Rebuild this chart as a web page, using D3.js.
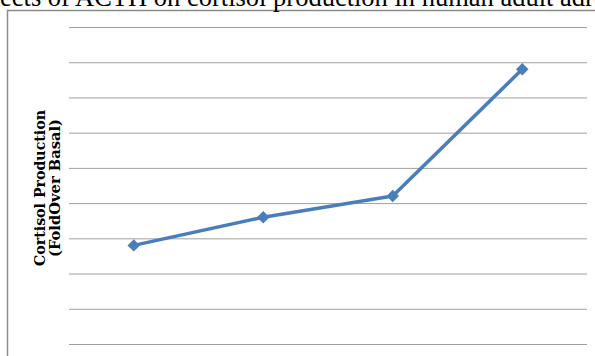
<!DOCTYPE html>
<html>
<head>
<meta charset="utf-8">
<script src="https://cdn.jsdelivr.net/npm/d3@7"></script>
<style>
  html, body { margin: 0; padding: 0; background: #fff; overflow: hidden; }
  svg { display: block; }
</style>
</head>
<body>
<div id="chart"></div>
<script>
// Data
const categories = ['A', 'B', 'C', 'D'];
const foldOverBasal = [1.4, 1.8, 2.1, 3.9];
const yTicks = [0, 0.5, 1, 1.5, 2, 2.5, 3, 3.5, 4, 4.5];
const titleText = 'Effects of ACTH on cortisol production in human adult adrenal cells';
const yTitle = ['Cortisol Production', '(FoldOver Basal)'];

const width = 595;
const height = 356;
const plot = { l: 69, r: 587, t: 27, b: 344 };
const blue = '#4a7ebb';

const svg = d3
  .select('#chart')
  .append('svg')
  .attr('width', width)
  .attr('height', height);

// chart frame (runs off the right and bottom edge)
svg
  .append('rect')
  .attr('x', 7.5)
  .attr('y', 10.5)
  .attr('width', 640)
  .attr('height', 400)
  .attr('fill', 'none')
  .attr('stroke', '#8c8c8c')
  .attr('stroke-width', 1.5);

// title, cut off at the top-left like the picture
const title = svg
  .append('text')
  .attr('y', 5.5)
  .style('font-family', '"Liberation Serif", "Times New Roman", serif')
  .style('font-size', '26.5px')
  .attr('fill', '#000')
  .text(titleText);
const off = title.node().getSubStringLength(0, 3);
title.attr('x', -off);

const xScale = d3.scaleBand().domain(categories).range([plot.l, plot.r]);
const yScale = d3.scaleLinear().domain([0, 4.5]).range([plot.b, plot.t]);

// gridlines
const yAxis = d3.axisLeft(yScale).tickValues(yTicks).tickSize(-(plot.r - plot.l)).tickFormat('');
const gy = svg.append('g').attr('transform', `translate(${plot.l},0)`).call(yAxis);
gy.select('.domain').remove();
gy.selectAll('.tick line').attr('stroke', '#a0a0a0').attr('stroke-width', 1);

// y-axis name (two lines, stretched to the widths seen in the picture)
const lineLen = [156, 138];
svg
  .selectAll('text.ytitle')
  .data(yTitle)
  .join('text')
  .attr('class', 'ytitle')
  .attr('transform', (d, i) => `translate(${45 + i * 15},188)rotate(-90)`)
  .attr('text-anchor', 'middle')
  .attr('textLength', (d, i) => lineLen[i])
  .attr('lengthAdjust', 'spacingAndGlyphs')
  .style('font-family', '"DejaVu Serif", serif')
  .style('font-weight', 'bold')
  .style('font-size', '15.5px')
  .attr('fill', '#000')
  .text((d) => d);

// line
const line = d3
  .line()
  .x((d, i) => xScale(categories[i]) + xScale.bandwidth() / 2)
  .y((d) => yScale(d));

svg
  .append('path')
  .datum(foldOverBasal)
  .attr('d', line)
  .attr('fill', 'none')
  .attr('stroke', blue)
  .attr('stroke-width', 3.5)
  .attr('stroke-linejoin', 'round');

// diamond markers
svg
  .append('g')
  .selectAll('path')
  .data(foldOverBasal)
  .join('path')
  .attr('d', d3.symbol(d3.symbolSquare, 78))
  .attr('transform', (d, i) => `translate(${xScale(categories[i]) + xScale.bandwidth() / 2},${yScale(d)})rotate(45)`)
  .attr('fill', blue);
</script>
</body>
</html>
